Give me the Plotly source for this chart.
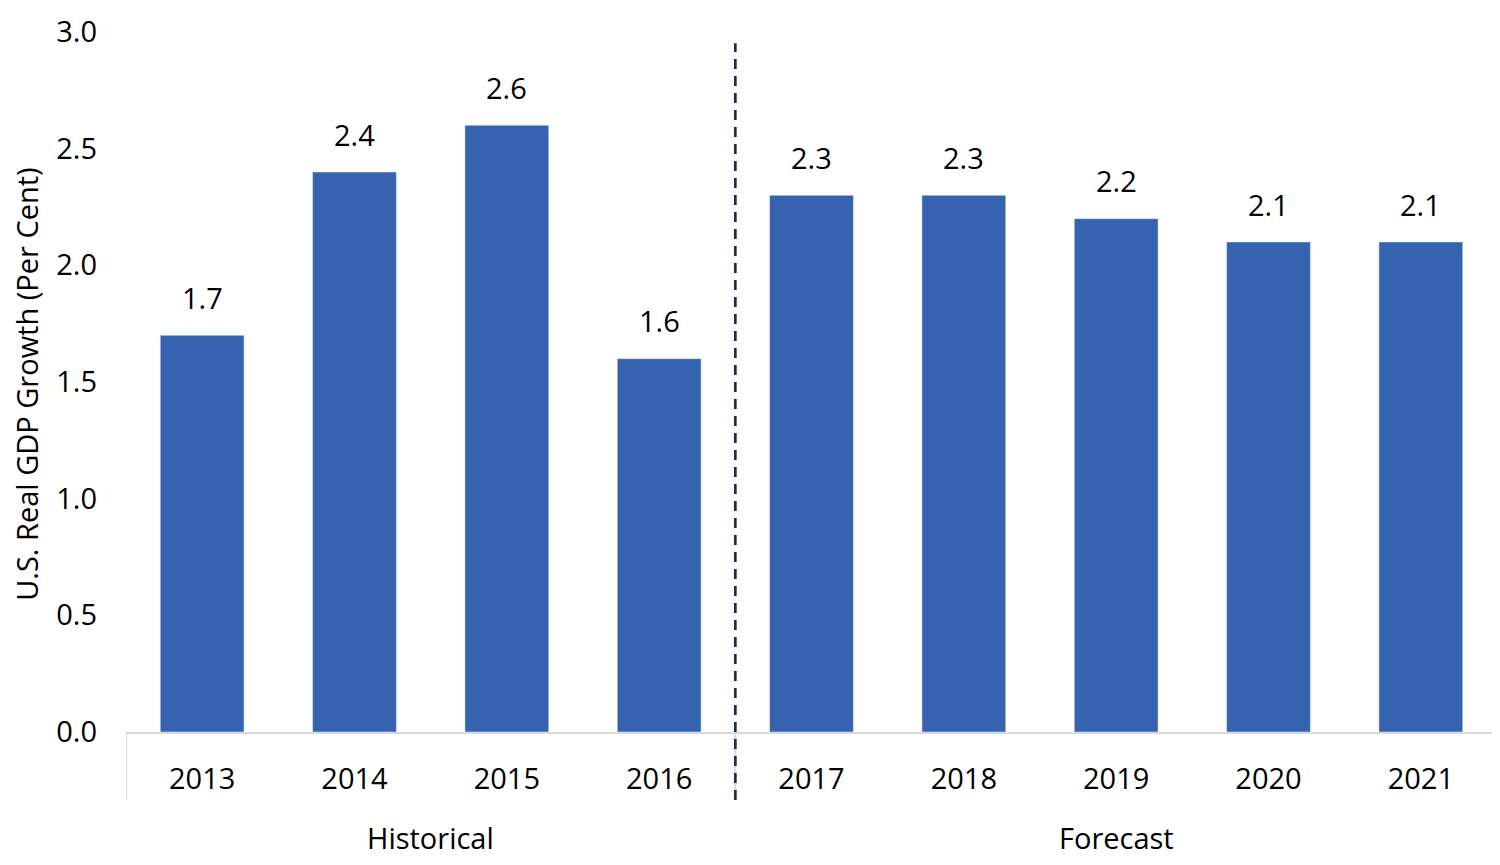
import plotly.graph_objects as go

YEARS = ["2013", "2014", "2015", "2016", "2017", "2018", "2019", "2020", "2021"]
GROWTH = [1.7, 2.4, 2.6, 1.6, 2.3, 2.3, 2.2, 2.1, 2.1]
GROUPS = ["Historical", "Forecast"]
GROUP_SIZES = [4, 5]
Y_TICKS = [0.0, 0.5, 1.0, 1.5, 2.0, 2.5, 3.0]
Y_TITLE = "U.S. Real GDP Growth (Per Cent)"

BAR_COLOR = "#3563B0"
FONT = "Open Sans, Noto Sans, sans-serif"
FS = 29

fig = go.Figure()
fig.add_trace(go.Bar(
    x=YEARS, y=GROWTH,
    marker_color=BAR_COLOR, width=0.55,
    hoverinfo="x+y",
))

# value labels above bars (x as category index; year strings would be read as numbers)
for i, v in enumerate(GROWTH):
    fig.add_annotation(x=i, y=v, text=f"{v:.1f}", showarrow=False,
                       yshift=38, font=dict(size=FS, color="#000000"))

# group labels and dividers under the axis
start = 0
bounds = [-0.5]
for name, n in zip(GROUPS, GROUP_SIZES):
    centre = start + (n - 1) / 2
    fig.add_annotation(x=centre, xref="x", y=-0.151, yref="paper", yanchor="middle",
                       text=name, showarrow=False, font=dict(size=FS, color="#000000"))
    start += n
    bounds.append(start - 0.5)

for b in bounds:
    fig.add_shape(type="line", x0=b, x1=b, xref="x", y0=0, y1=-0.097, yref="paper",
                  line=dict(color="#D9D9D9", width=2), layer="below")

# dashed separator between historical and forecast
split = GROUP_SIZES[0] - 0.5
fig.add_shape(type="line", x0=split, x1=split, xref="x", y0=-0.097, y1=0.984, yref="paper",
              line=dict(color="#1F2D4D", width=2.7, dash="10px,7px"))

# y-axis title placed closer to the page edge than plotly's own title allows
fig.add_annotation(x=0, xref="paper", xanchor="center", xshift=-99,
                   y=0.496, yref="paper", yanchor="middle",
                   text=Y_TITLE, textangle=-90, showarrow=False,
                   font=dict(size=FS, color="#000000"))

fig.update_layout(
    width=1492, height=859,
    plot_bgcolor="white", paper_bgcolor="white",
    margin=dict(l=118, r=3, t=21, b=135),
    font=dict(family=FONT, size=FS, color="#000000"),
    showlegend=False,
)
fig.update_xaxes(
    type="category", showline=True, linecolor="#D9D9D9", linewidth=2,
    ticks="", showgrid=False, ticklabelstandoff=20,
    tickfont=dict(size=FS), range=[-0.5, len(YEARS) - 0.5],
)
fig.update_yaxes(
    range=[0, 3.0], tickvals=Y_TICKS, tickformat=".1f",
    showgrid=False, zeroline=False, showline=False, ticks="",
    ticklabelstandoff=28, tickfont=dict(size=FS),
)

fig.write_html("out.html")
